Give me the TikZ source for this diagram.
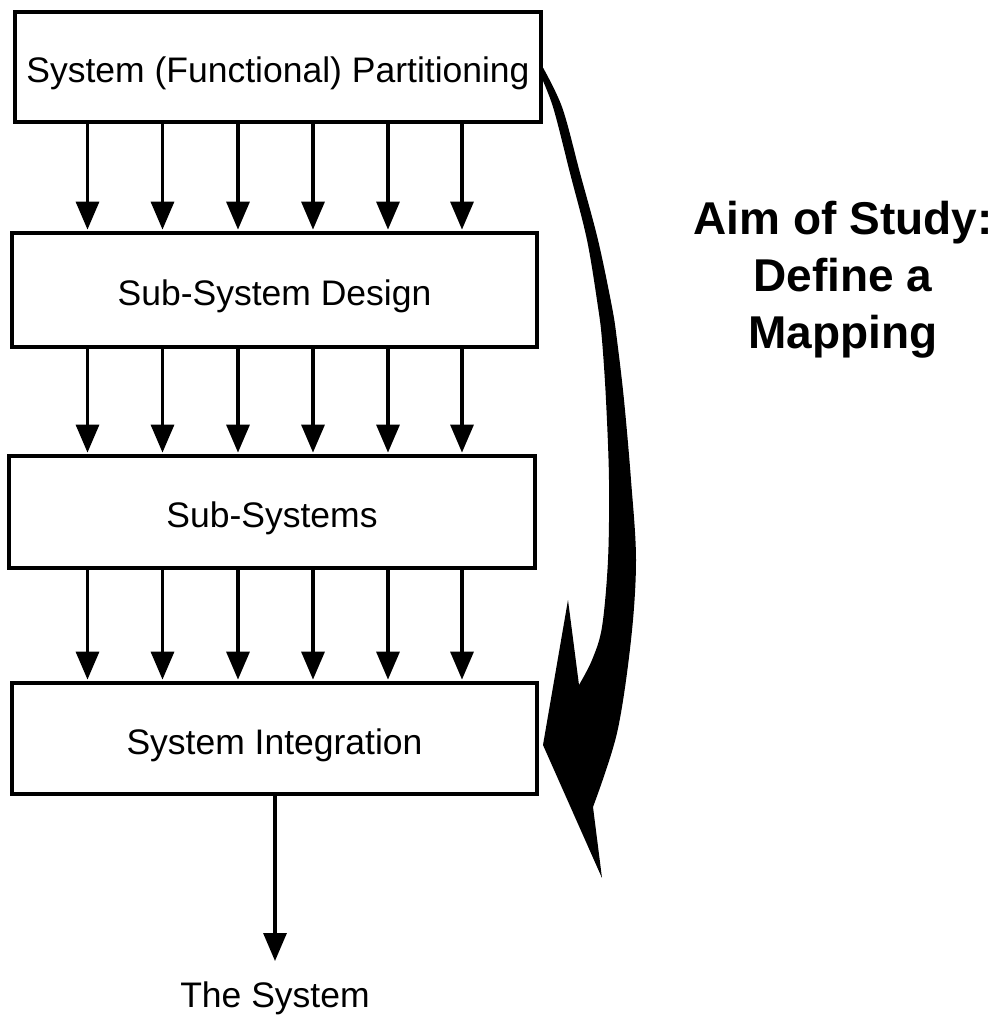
\documentclass[tikz,border=0pt]{standalone}
\usepackage{fontspec}
\setmainfont{Liberation Sans}
\usetikzlibrary{arrows.meta}
\newcommand\boxfont{\fontsize{35.5}{42}\selectfont}
\newcommand\aimfont{\bfseries\fontsize{46}{57}\selectfont}
\begin{document}
\begin{tikzpicture}[x=1pt,y=-1pt,
  box/.style={draw, fill=white, line width=3.8pt, inner sep=0pt, font=\boxfont,
              text height=33pt, text depth=2pt},
  arr/.style={line width=3.3pt, shorten >=1.5pt, -{Triangle[width=23pt,length=28pt]}}]
\useasboundingbox (0,0) rectangle (1000,1015);

% broad curved arrow on the right, drawn first so box 1 covers its start
\fill plot[smooth, tension=0.55] coordinates {(541,64) (562,107) (580,173) (598,240) (612,307) (617,340) (624,400) (631,480) (636,560) (631,640) (617,733) (593,807)}
  -- (602,878) -- (543,745) -- (568,600) -- (579,685)
  -- plot[smooth, tension=0.55] coordinates {(579,685) (592,660) (602,627) (608,560) (609,480) (606,400) (602,340) (598,307) (587,240) (570,173) (553,107) (539,72)}
  -- cycle;

% the four stages
\node[box, minimum width=526pt, minimum height=110pt] (b1) at (278,67) {System (Functional) Partitioning};
\node[box, minimum width=525pt, minimum height=114pt] (b2) at (274.5,290) {Sub-System Design};
\node[box, minimum width=526pt, minimum height=112pt] (b3) at (272,512) {Sub-Systems};
\node[box, minimum width=525pt, minimum height=111pt] (b4) at (274.5,738.5) {System Integration};

% columns of the parallel arrows
\foreach \i/\x in {1/87.5,2/162.5,3/238,4/313,5/388,6/462}
  \coordinate (c\i) at (\x,0);
\foreach \a/\b in {b1/b2,b2/b3,b3/b4}
  \foreach \i in {1,...,6}
    \draw[arr] (\a.south -| c\i) -- (\b.north -| c\i);

% output
\node[font=\boxfont, anchor=base] (sys) at (275,1007) {The System};
\coordinate (c0) at (275,0);
\coordinate (tipend) at (275,961);
\draw[arr, shorten >=0pt] (b4.south -| c0) -- (tipend);

% aim
\node[font=\aimfont, align=center] (aim) at (843,280) {Aim of Study:\\Define a\\Mapping};
\end{tikzpicture}
\end{document}
